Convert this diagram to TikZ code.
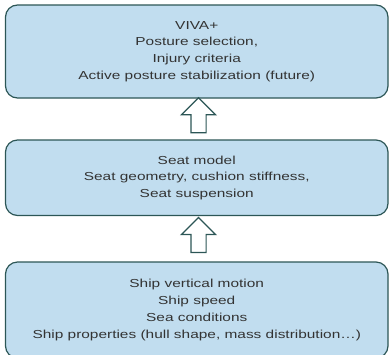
\documentclass[tikz,border=0pt]{standalone}
\usepackage{fontspec}
\usepackage{tikz}
\usetikzlibrary{shapes.arrows, positioning, calc}
\newfontfamily\boxfont{Liberation Sans}[FakeStretch=1.33]
\definecolor{boxedge}{RGB}{44,86,86}
\definecolor{boxfill}{RGB}{193,221,239}
\definecolor{boxink}{RGB}{51,51,51}
\tikzset{
  block/.style={
    draw=boxedge,
    rounded corners=12pt,
    line width=1.2pt,
    fill=boxfill,
    align=center,
    minimum width=382.5pt,
    inner sep=0pt,
    font=\boxfont\fontsize{11.6pt}{16.7pt}\selectfont,
    text=boxink
  },
  uparrow/.style={
    single arrow,
    draw=boxedge,
    fill=white,
    line width=1.2pt,
    shape border rotate=90,
    minimum height=35pt,
    single arrow head extend=9.5pt,
    single arrow head indent=0pt,
    inner sep=7pt
  }
}

\begin{document}
\begin{tikzpicture}[x=1pt,y=-1pt]
    \useasboundingbox (0,0) rectangle (390,354);
    \node[block, minimum height=93pt] (viva) at (196.75,51.5) {VIVA+\\Posture selection,\\Injury criteria\\Active posture stabilization (future)};
    \node[block, minimum height=75.5pt] (seat) at (196.75,177.75) {Seat model\\Seat geometry, cushion stiffness,\\Seat suspension};
    \node[block, minimum height=96pt] (ship) at (196.75,310) {Ship vertical motion\\Ship speed\\Sea conditions\\Ship properties (hull shape, mass distribution\ldots)};

    \node[uparrow, xshift=1.75pt] (up1) at ($(seat.north)!0.5!(viva.south)$) {};
    \node[uparrow, xshift=1.75pt] (up2) at ($(ship.north)!0.5!(seat.south)$) {};
  \end{tikzpicture}
\end{document}
